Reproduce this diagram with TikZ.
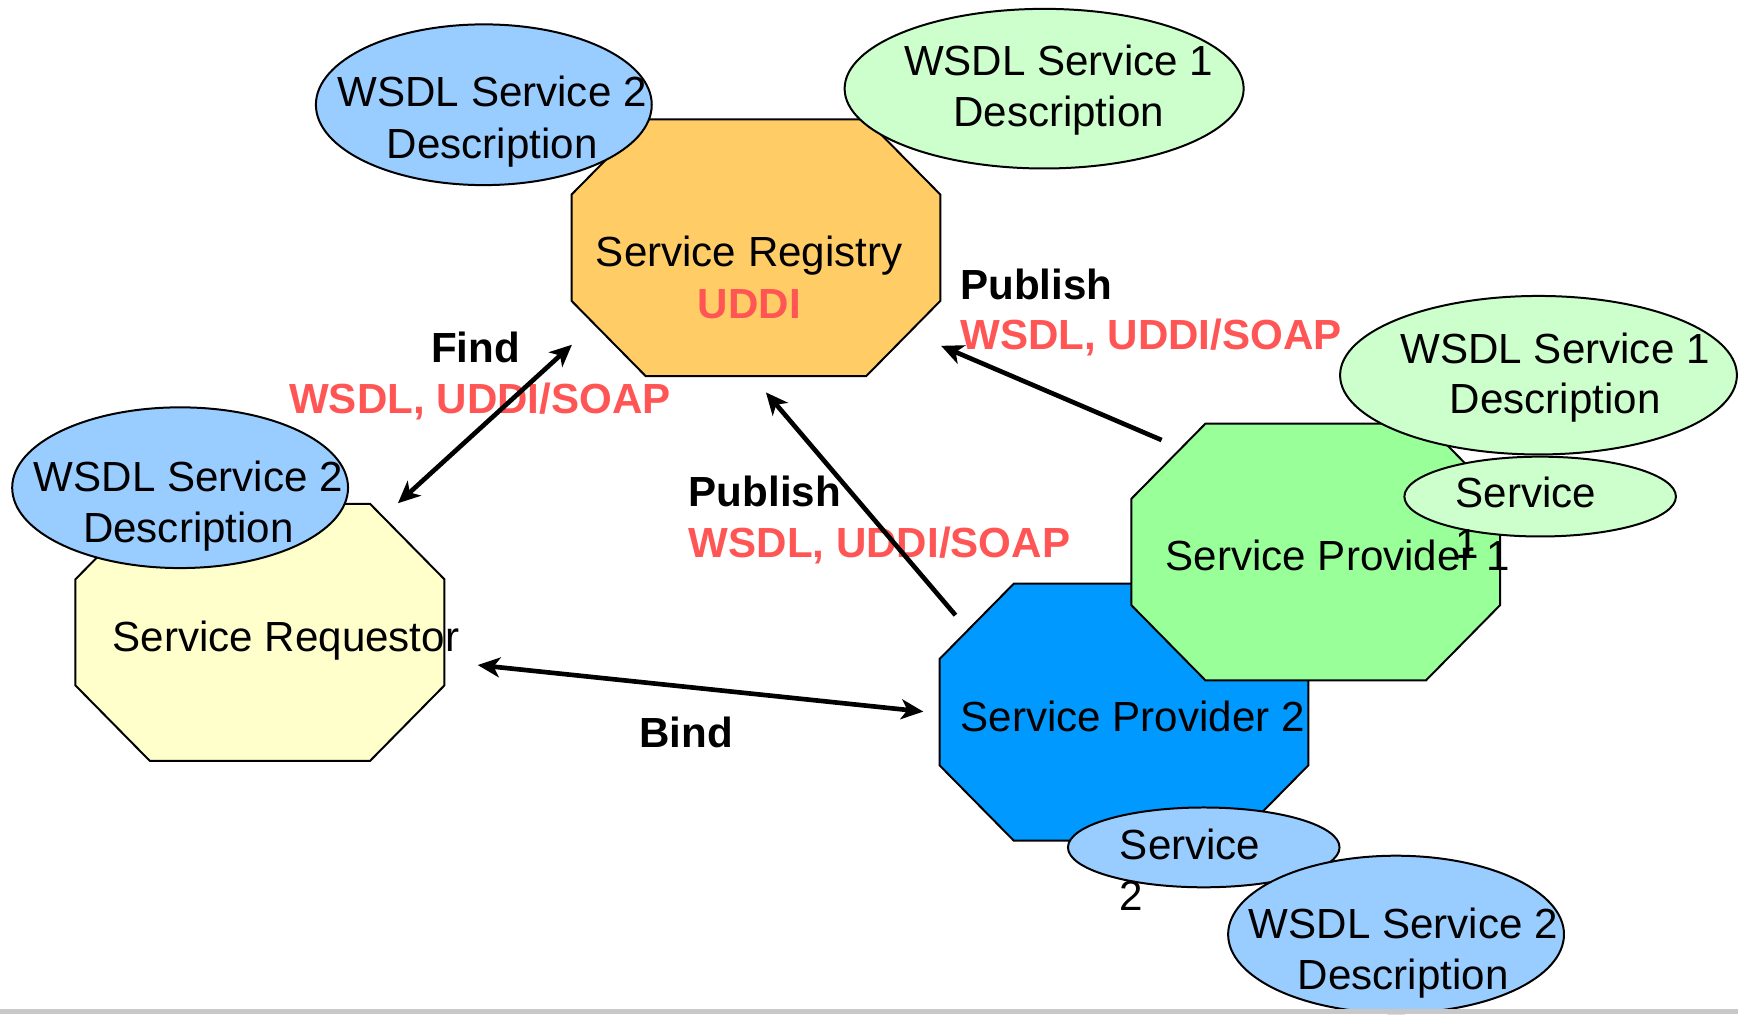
\documentclass[tikz,border=0pt]{standalone}
\usepackage{fontspec}
\setmainfont{Liberation Sans}
\usetikzlibrary{shapes.geometric,arrows.meta}
\definecolor{regfill}{HTML}{FFCC66}
\definecolor{reqfill}{HTML}{FFFFCC}
\definecolor{sptwo}{HTML}{0099FF}
\definecolor{spone}{HTML}{99FF99}
\definecolor{wsdltwo}{HTML}{99CCFF}
\definecolor{wsdlone}{HTML}{CCFFCC}
\definecolor{lblred}{HTML}{FF5555}
\definecolor{barfill}{HTML}{C8C8C8}
\newcommand\octpath[2]{%
  \draw[octline, fill=#2]
    ([xshift=33.5pt]#1.north west) -- ([xshift=-33.5pt]#1.north east)
    -- ([yshift=-34pt]#1.north east) -- ([yshift=34pt]#1.south east)
    -- ([xshift=-33.5pt]#1.south east) -- ([xshift=33.5pt]#1.south west)
    -- ([yshift=34pt]#1.south west) -- ([yshift=-34pt]#1.north west) -- cycle;}
\begin{document}
\begin{tikzpicture}[x=0.5pt,y=-0.5pt,
  octbox/.style={rectangle, inner sep=0pt, minimum width=166pt, minimum height=115.5pt},
  octline/.style={draw=black, line width=0.9pt, line join=miter},
  bubble/.style={ellipse, draw=black, line width=0.9pt, inner sep=0pt},
  bigbubble/.style={bubble, minimum width=151.5pt, minimum height=72.5pt},
  smallbubble/.style={bubble, minimum width=122.5pt, minimum height=36pt},
  txt/.style={inner sep=0pt, anchor=base, font=\fontsize{19}{23.5}\selectfont},
  ltxt/.style={txt, anchor=base west},
  lbl/.style={txt, font=\fontsize{19}{23.5}\selectfont\bfseries},
  llbl/.style={lbl, anchor=base west},
  redlbl/.style={lbl, text=lblred},
  lredlbl/.style={llbl, text=lblred},
  tip/.tip={Stealth[length=10pt,width=9pt,inset=2.8pt]},
  flow/.style={line width=2.1pt, -tip},
  flowboth/.style={line width=2.1pt, tip-tip}
]
\useasboundingbox (0,0) rectangle (1568,915);

% Service Registry
\node[octbox] (reg) at (682,223.5) {};
\octpath{reg}{regfill}
\node[txt] (regtxt) at (676,240) {Service Registry};
\node[txt, font=\fontsize{19}{23.5}\selectfont\bfseries, text=lblred] (regudd) at (676,287) {UDDI};

\node[bigbubble, fill=wsdltwo] (wA) at (436.5,94.5) {};
\node[txt] (wAa) at (444,96) {WSDL Service 2};
\node[txt] (wAb) at (444,143) {Description};

\node[bubble, fill=wsdlone, minimum width=180pt, minimum height=72pt] (wB) at (942,80) {};
\node[txt] (wBa) at (955,68) {WSDL Service 1};
\node[txt] (wBb) at (955,114) {Description};

% Service Requestor
\node[octbox] (req) at (234.5,570.5) {};
\octpath{req}{reqfill}
\node[txt] (reqtxt) at (258,588) {Service Requestor};

\node[bigbubble, fill=wsdltwo] (wC) at (162.5,440) {};
\node[txt] (wCa) at (170,443) {WSDL Service 2};
\node[txt] (wCb) at (170,489) {Description};

% Service Provider 2
\node[octbox] (sp2) at (1014,642.5) {};
\octpath{sp2}{sptwo}
\node[txt] (sp2txt) at (1022,660) {Service Provider 2};

\node[smallbubble, fill=wsdltwo] (s2) at (1086,764.5) {};
\node[ltxt] (s2a) at (1010,775) {Service};
\node[ltxt] (s2b) at (1010,821) {2};

\node[bigbubble, fill=wsdltwo, minimum height=71pt] (wD) at (1259.5,843) {};
\node[txt] (wDa) at (1266,847) {WSDL Service 2};
\node[txt] (wDb) at (1266,893) {Description};

% Service Provider 1
\node[octbox] (sp1) at (1187,498) {};
\octpath{sp1}{spone}
\node[txt] (sp1txt) at (1207,515) {Service Provider 1};

\node[bubble, fill=wsdlone, minimum width=179pt, minimum height=71.5pt] (wE) at (1388,338.5) {};
\node[txt] (wEa) at (1403,328) {WSDL Service 1};
\node[txt] (wEb) at (1403,373) {Description};

\node[smallbubble, fill=wsdlone] (s1) at (1389.5,448) {};
\node[ltxt] (s1a) at (1313,458) {Service};
\node[ltxt] (s1b) at (1313,504) {1};

% labels
\node[lbl] (findl) at (429,327) {Find};
\node[redlbl] (findp) at (433,373) {WSDL, UDDI/SOAP};
\node[llbl] (pubAl) at (866,270) {Publish};
\node[lredlbl] (pubAp) at (866,315) {WSDL, UDDI/SOAP};
\node[llbl] (pubBl) at (621,457) {Publish};
\node[lredlbl] (pubBp) at (621,503) {WSDL, UDDI/SOAP};
\node[lbl] (bindl) at (619,674) {Bind};

% connector end points
\coordinate (findA) at (359,454);
\coordinate (findB) at (516,311);
\coordinate (pubBs) at (862,555);
\coordinate (pubBe) at (691,354);
\coordinate (pubAs) at (1048,397);
\coordinate (pubAe) at (849,312);
\coordinate (bindA) at (431,600);
\coordinate (bindB) at (833,642);

\draw[flowboth] (findA) -- (findB);
\draw[flow] (pubBs) -- (pubBe);
\draw[flow] (pubAs) -- (pubAe);
\draw[flowboth] (bindA) -- (bindB);

% bottom bar
\fill[barfill] (0,910) rectangle (1568,915);
\end{tikzpicture}
\end{document}
